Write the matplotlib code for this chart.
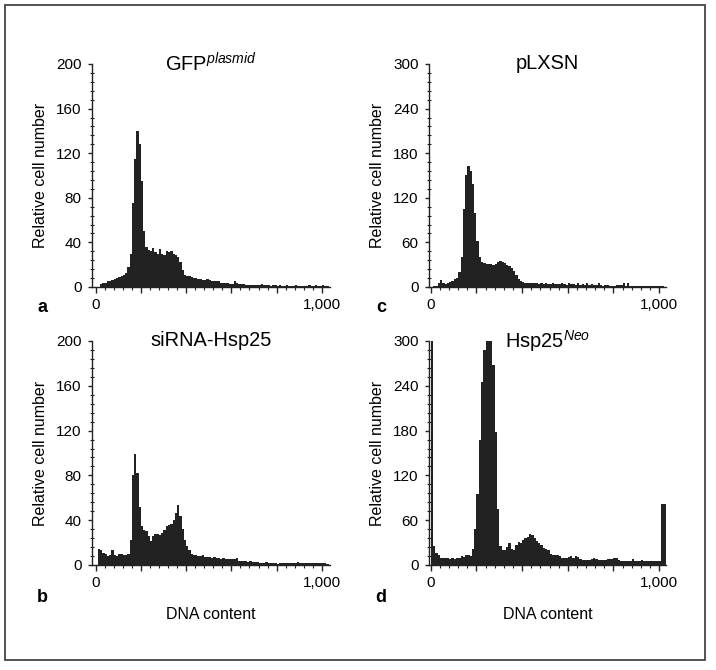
import numpy as np
import matplotlib
matplotlib.use("Agg")
import matplotlib.pyplot as plt
from matplotlib.patches import Rectangle
from matplotlib.ticker import FixedLocator, MultipleLocator

plt.rcParams["font.family"] = "Liberation Sans"
plt.rcParams["mathtext.fontset"] = "custom"
plt.rcParams["mathtext.rm"] = "Liberation Sans"
plt.rcParams["mathtext.it"] = "Liberation Sans:italic"

# histogram counts, one value per 10-channel bin starting at channel 0
bin_width = 10

gfp_counts = [
    0, 0, 3, 4, 4, 5, 5, 6, 7, 8, 9, 10, 11, 13, 18, 30, 75, 115, 140, 128,
    95, 50, 36, 33, 32, 35, 31, 30, 34, 30, 29, 32, 31, 32, 30, 29, 27, 22, 15, 11,
    10, 10, 9, 8, 8, 7, 7, 6, 6, 7, 6, 5, 5, 5, 5, 4, 4, 4, 4, 3,
    3, 5, 4, 3, 3, 3, 2, 2, 2, 2, 2, 2, 2, 3, 2, 2, 2, 1, 2, 2,
    1, 2, 1, 1, 2, 1, 1, 1, 2, 1, 1, 1, 1, 1, 2, 1, 1, 2, 1, 1,
    2, 1, 1,
]

plxsn_counts = [
    0, 1, 2, 5, 9, 6, 4, 5, 7, 8, 11, 12, 20, 40, 105, 150, 163, 156, 138, 100,
    62, 40, 34, 32, 31, 31, 31, 30, 31, 34, 35, 34, 32, 30, 28, 26, 22, 16, 11, 8,
    7, 6, 6, 5, 5, 5, 5, 4, 5, 4, 5, 4, 4, 5, 4, 4, 4, 6, 4, 3,
    5, 4, 4, 3, 5, 3, 4, 3, 5, 3, 4, 3, 3, 5, 3, 2, 3, 3, 2, 2,
    2, 3, 3, 3, 6, 2, 6, 2, 2, 2, 2, 2, 2, 2, 2, 2, 2, 2, 2, 2,
    2, 2, 0,
]

sirna_counts = [
    0, 14, 13, 11, 10, 8, 9, 13, 9, 8, 10, 10, 9, 9, 10, 22, 80, 99, 82, 52,
    35, 31, 30, 26, 21, 26, 28, 28, 27, 29, 31, 35, 36, 37, 40, 46, 54, 44, 32, 22,
    17, 13, 10, 9, 9, 8, 8, 9, 7, 7, 7, 6, 7, 6, 6, 5, 6, 5, 5, 5,
    5, 5, 6, 4, 4, 4, 4, 3, 4, 3, 3, 3, 2, 2, 2, 3, 2, 2, 2, 2,
    1, 2, 2, 2, 2, 2, 2, 2, 2, 3, 2, 2, 2, 2, 2, 2, 2, 2, 2, 2,
    2, 2, 1,
]

neo_counts = [
    310, 25, 16, 13, 10, 10, 9, 10, 8, 9, 8, 9, 10, 12, 11, 14, 13, 12, 22, 48,
    95, 168, 245, 288, 310, 310, 305, 268, 178, 75, 25, 20, 20, 24, 29, 22, 20, 27, 31, 30,
    33, 36, 38, 42, 40, 36, 32, 29, 27, 23, 21, 20, 15, 13, 13, 13, 12, 10, 9, 9,
    11, 12, 10, 12, 11, 8, 7, 7, 7, 7, 8, 10, 8, 7, 7, 7, 7, 8, 8, 8,
    9, 9, 7, 6, 6, 6, 6, 5, 8, 5, 5, 5, 7, 5, 5, 5, 5, 5, 5, 5,
    5, 82, 82,
]

panel_counts = [gfp_counts, plxsn_counts, sirna_counts, neo_counts]
panel_titles = [r"GFP$^{\mathit{plasmid}}$", "pLXSN", "siRNA-Hsp25", r"Hsp25$^{\mathit{Neo}}$"]
panel_letters = ["a", "c", "b", "d"]
y_max = [200, 300, 200, 300]
y_major = [40, 60, 40, 60]
y_minor = [8, 12, 8, 12]
x_major = [0, 200, 400, 600, 800, 1000]
x_major_labels = ["0", "", "", "", "", "1,000"]

W, H = 716, 670
fig = plt.figure(figsize=(W / 100, H / 100), dpi=100)

# pixel boxes (left, top, right, bottom) of each plot area
boxes = [(92, 64, 330, 287), (429, 64, 666, 287), (92, 341, 330, 565), (429, 341, 666, 565)]
xlims = [(-16, 1036), (-8, 1030), (-16, 1036), (-8, 1030)]
ink = "#222222"

for i in range(4):
    l, t, r, b = boxes[i]
    ax = fig.add_axes([l / W, 1 - b / H, (r - l) / W, (b - t) / H])
    counts = panel_counts[i]
    edges = np.arange(len(counts) + 1) * bin_width
    ax.stairs(counts, edges, fill=True, color=ink, linewidth=0)

    ax.set_xlim(*xlims[i])
    ax.set_ylim(0, y_max[i])
    ax.spines["top"].set_visible(False)
    ax.spines["right"].set_visible(False)
    for s in ("left", "bottom"):
        ax.spines[s].set_linewidth(1.0)
        ax.spines[s].set_color(ink)

    ax.xaxis.set_major_locator(FixedLocator(x_major))
    ax.set_xticklabels(x_major_labels)
    ax.xaxis.set_minor_locator(FixedLocator(np.arange(0, 1001, 40)))
    ax.yaxis.set_major_locator(MultipleLocator(y_major[i]))
    ax.yaxis.set_minor_locator(MultipleLocator(y_minor[i]))
    ax.tick_params(axis="x", which="major", direction="out", length=4, width=1, pad=4,
                   labelsize=11, color=ink)
    ax.tick_params(axis="x", which="minor", direction="out", length=2, width=0.8, color=ink)
    ax.tick_params(axis="y", which="major", direction="out", length=3, width=1, pad=4.5,
                   labelsize=11, color=ink)
    ax.tick_params(axis="y", which="minor", direction="inout", length=3, width=0.8, color=ink)

    ax.set_ylabel("Relative cell number", fontsize=11.5, labelpad=6)
    ax.text(0.5, 1.0, panel_titles[i], transform=ax.transAxes, ha="center", va="center",
            fontsize=14.4)
    if i >= 2:
        ax.set_xlabel("DNA content", fontsize=11.5, labelpad=12)
    ax.set_facecolor("none")

# panel letters
letter_pos = [(42, 307), (381, 307), (42, 597), (381, 597)]
for i in range(4):
    x, y = letter_pos[i]
    fig.text(x / W, 1 - y / H, panel_letters[i], fontsize=13, fontweight="bold",
             ha="center", va="center")

# outer frame
fig.patches.append(Rectangle((5 / W, 1 - 660 / H), 700 / W, 655 / H, transform=fig.transFigure,
                             fill=False, edgecolor="#444444", linewidth=1.3))

fig.savefig("out.png", dpi=100, facecolor="white")
